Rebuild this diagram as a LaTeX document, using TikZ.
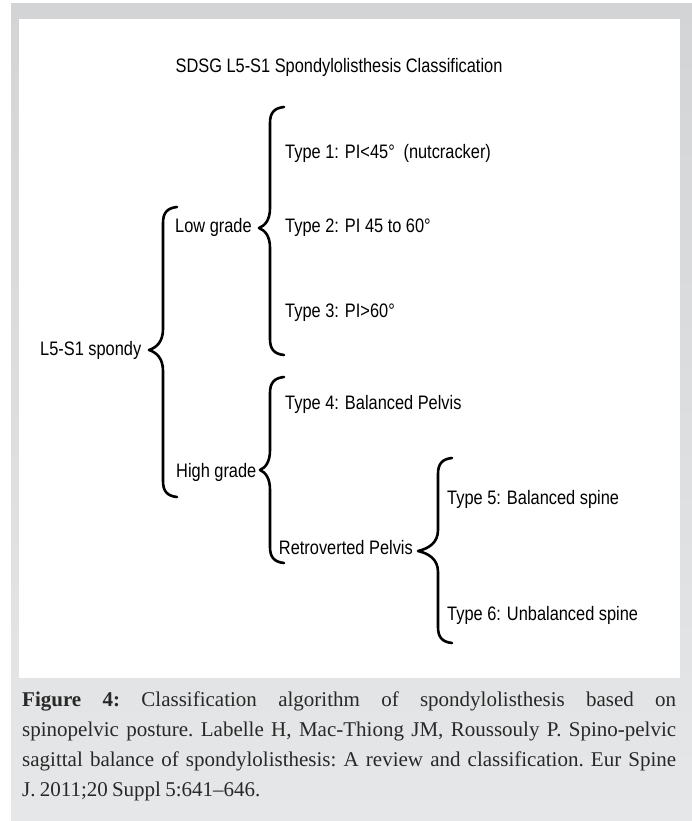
\documentclass[tikz,border=0pt]{standalone}
\usepackage{fontspec}
\setmainfont{Liberation Serif}
\newfontfamily\diagfont[FakeStretch=0.84]{Liberation Sans}
\definecolor{graytop}{RGB}{211,212,214}
\definecolor{graybot}{RGB}{230,231,232}
\definecolor{captxt}{RGB}{40,40,40}
\newcommand\drawbrc[6]{% X T B M d h
  \draw[brcline] ({#1+14},#2) .. controls ({#1+4},{#2+1}) and (#1,{#2+6}) .. (#1,{#2+16})
    -- (#1,{#4-#6}) .. controls (#1,{#4-#6*0.4}) and ({#1-#5*0.45},{#4-#6*0.12}) .. ({#1-#5},#4)
    .. controls ({#1-#5*0.45},{#4+#6*0.12}) and (#1,{#4+#6*0.4}) .. (#1,{#4+#6})
    -- (#1,{#3-16}) .. controls (#1,{#3-6}) and ({#1+4},{#3-1}) .. ({#1+14},#3);
}
\newcommand\captfont{\fontsize{21}{24}\selectfont\frenchspacing\spaceskip=0.2em plus 3em minus 0.08em\relax}
\begin{document}
\begin{tikzpicture}[x=1pt,y=-1pt,
  lbl/.style={font=\diagfont\fontsize{19.5}{21}\selectfont, inner sep=0pt, anchor=base west},
  brcline/.style={line width=2.6pt, line cap=round, line join=round},
  captline/.style={font=\captfont, text=captxt, inner sep=0pt, anchor=base west}
]
\useasboundingbox (0,0) rectangle (692,821);
\fill[white] (0,0) rectangle (692,821);
\shade[top color=graytop, bottom color=graybot] (11,4) rectangle (692,821);
\fill[white] (19,19) rectangle (680,678);

\node[lbl, anchor=base] (title) at (339,73) {SDSG L5-S1 Spondylolisthesis Classification};

\node[lbl] (root) at (40,355) {L5-S1 spondy};
\node[lbl] (low) at (175,232) {Low grade};
\node[lbl] (high) at (176,477) {High grade};
\node[lbl] (t1) at (285,159) {Type 1: PI<45°\hspace{0.45em}(nutcracker)};
\node[lbl] (t2) at (285,232) {Type 2: PI 45 to 60°};
\node[lbl] (t3) at (285,317) {Type 3: PI>60°};
\node[lbl] (t4) at (285,409) {Type 4: Balanced Pelvis};
\node[lbl, anchor=base east] (retro) at (413,554) {Retroverted Pelvis};
\node[lbl] (t5) at (447,504) {Type 5: Balanced spine};
\node[lbl] (t6) at (447,620) {Type 6: Unbalanced spine};

\drawbrc{163}{207}{497}{350}{14}{21}
\drawbrc{270}{107}{355}{228}{11}{20}
\drawbrc{270}{377}{563}{470}{10}{20}
\drawbrc{438}{458}{643}{551}{20}{21}

\node[captline] (cap1) at (22,706) {\makebox[654pt][s]{\textbf{Figure 4:} Classification algorithm of spondylolisthesis based on}};
\node[captline] (cap2) at (22,736) {\makebox[654pt][s]{spinopelvic posture. Labelle H, Mac-Thiong JM, Roussouly P. Spino-pelvic}};
\node[captline] (cap3) at (22,766) {\makebox[654pt][s]{sagittal balance of spondylolisthesis: A review and classification. Eur Spine}};
\node[captline] (cap4) at (22,796) {J. 2011;20 Suppl 5:641–646.};
\end{tikzpicture}
\end{document}
